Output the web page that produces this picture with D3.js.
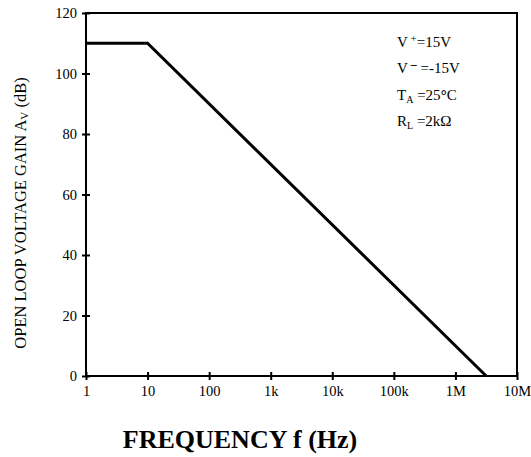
<!DOCTYPE html>
<meta charset="utf-8">
<style>
body { margin: 0; background: #fff; }
text { font-family: "Liberation Serif", "Times New Roman", serif; fill: #000; }
.tick text { font-size: 14.5px; }
.tick line { stroke: #000; stroke-width: 2px; }
.frame { fill: none; stroke: #000; stroke-width: 2px; }
.curve { fill: none; stroke: #000; stroke-width: 3px; }
</style>
<body>
<script src="https://cdn.jsdelivr.net/npm/d3@7"></script>
<script>

// axis ticks
var freqTicks = [1, 10, 100, 1e3, 1e4, 1e5, 1e6, 1e7];
var freqLabels = ["1", "10", "100", "1k", "10k", "100k", "1M", "10M"];
var gainTicks = [0, 20, 40, 60, 80, 100, 120];

// open loop gain curve (corner points)
var curveFreq = [1, 10, 3.16e6];
var curveGain = [110, 110, 0];

var width = 531, height = 457;
var plot = {left: 86, right: 517, top: 13, bottom: 376};

var svg = d3.select("body").append("svg")
    .attr("width", width)
    .attr("height", height);

var x = d3.scaleLog()
    .domain([1, 1e7])
    .range([plot.left, plot.right]);

var y = d3.scaleLinear()
    .domain([0, 120])
    .range([plot.bottom, plot.top]);

// x axis
var xAxis = svg.append("g")
    .attr("transform", "translate(0," + plot.bottom + ")")
    .call(d3.axisBottom(x)
        .tickValues(freqTicks)
        .tickFormat(function(d, i) { return freqLabels[i]; })
        .tickSize(4)
        .tickPadding(6))
    .attr("font-family", "Liberation Serif")
    .attr("font-size", 14.5);
xAxis.select(".domain").remove();
xAxis.selectAll(".tick line").attr("y1", -4).attr("y2", 4);
xAxis.selectAll(".tick text").attr("fill", "#000");

// y axis
var yAxis = svg.append("g")
    .attr("transform", "translate(" + plot.left + ",0)")
    .call(d3.axisLeft(y)
        .tickValues(gainTicks)
        .tickSize(4)
        .tickPadding(5))
    .attr("font-family", "Liberation Serif")
    .attr("font-size", 14.5);
yAxis.select(".domain").remove();
yAxis.selectAll(".tick line").attr("x1", -4).attr("x2", 4);
yAxis.selectAll(".tick text").attr("fill", "#000");

// frame round the plot
svg.append("rect")
    .attr("class", "frame")
    .attr("x", plot.left)
    .attr("y", plot.top)
    .attr("width", plot.right - plot.left)
    .attr("height", plot.bottom - plot.top);

// the curve
var line = d3.line()
    .x(function(d) { return x(d[0]); })
    .y(function(d) { return y(d[1]); });

svg.append("path")
    .attr("class", "curve")
    .attr("d", line(d3.zip(curveFreq, curveGain)));

// x title
svg.append("text")
    .attr("x", 240)
    .attr("y", 448)
    .attr("text-anchor", "middle")
    .style("font-size", "26px")
    .style("font-weight", "bold")
    .text("FREQUENCY f (Hz)");

// y title
var yt = svg.append("text")
    .attr("transform", "translate(26,213) rotate(-90)")
    .attr("text-anchor", "middle")
    .style("font-size", "16.5px");
yt.append("tspan").text("OPEN LOOP VOLTAGE GAIN A");
yt.append("tspan").attr("dy", 2).style("font-size", "11px").text("V");
yt.append("tspan").attr("dy", -2).text(" (dB)");

// conditions
var cond = svg.append("g")
    .attr("transform", "translate(397,0)")
    .style("font-size", "15px");

var t1 = cond.append("text").attr("y", 47);
t1.append("tspan").text("V");
t1.append("tspan").attr("dy", -5).style("font-size", "11px").text(" +");
t1.append("tspan").attr("dy", 5).text("=15V");

var t2 = cond.append("text").attr("y", 73);
t2.append("tspan").text("V");
t2.append("tspan").attr("dy", -5).style("font-size", "12px").style("font-weight", "bold").text(" \u2013");
t2.append("tspan").attr("dy", 5).text(" =-15V");

var t3 = cond.append("text").attr("y", 100);
t3.append("tspan").text("T");
t3.append("tspan").attr("dy", 3).style("font-size", "10px").text("A");
t3.append("tspan").attr("dy", -3).text(" =25");
t3.append("tspan").style("font-weight", "bold").text("\u00b0");
t3.append("tspan").text("C");

var t4 = cond.append("text").attr("y", 126);
t4.append("tspan").text("R");
t4.append("tspan").attr("dy", 3).style("font-size", "10px").text("L");
t4.append("tspan").attr("dy", -3).text(" =2k\u03a9");

</script>
</body>
